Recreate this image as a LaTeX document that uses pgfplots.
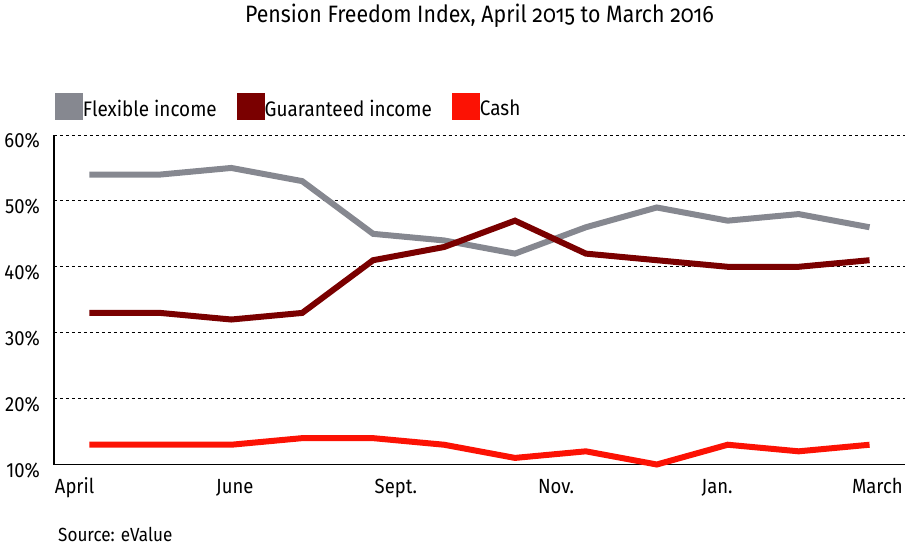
\documentclass[border=0pt]{standalone}
\usepackage{fontspec}
\setmainfont[FakeStretch=0.9]{Fira Sans}
\usepackage{pgfplots}
\pgfplotsset{compat=1.18}
\definecolor{flexc}{RGB}{134,136,144}
\definecolor{guarc}{RGB}{122,0,0}
\definecolor{cashc}{RGB}{252,18,4}
\newcommand\ticksize{\fontsize{20.5bp}{24bp}\selectfont}
\newcommand\legsize{\fontsize{21bp}{26bp}\selectfont}
\newcommand\titlesize{\fontsize{23.7bp}{28bp}\selectfont}
\newcommand\srcsize{\fontsize{19bp}{24bp}\selectfont}
\begin{document}
\begin{tikzpicture}
\path[use as bounding box] (-54bp,-85.5bp) rectangle (853bp,464.5bp);
\begin{axis}[
  at={(0,0)}, anchor=south west,
  scale only axis, width=851bp, height=329.5bp,
  xmin=-0.5, xmax=11.5, ymin=10, ymax=60,
  axis x line=bottom, axis y line=left,
  axis line style={-, line width=1.5bp, black},
  clip=false,
  major tick length=0pt,
  ytick={10,20,30,40,50,60},
  yticklabel={\pgfmathprintnumber{\tick}\%},
  /pgf/number format/assume math mode=true,
  yticklabel style={anchor=base east, inner sep=0pt, xshift=-14bp, yshift=-13bp, font=\ticksize},
  xtick={-0.21,2.05,4.32,6.58,8.85,11.11},
  xticklabels={April,June,Sept.,Nov.,Jan.,March},
  xticklabel style={anchor=base, inner sep=0pt, yshift=-28.5bp, font=\ticksize},
  ymajorgrids, grid style={dashed, black, line width=0.8bp},
  legend columns=3,
  legend image code/.code={\fill[#1] (0bp,-8.2bp) rectangle (22bp,12.8bp);},
  legend style={at={(rel axis cs:0,1)}, anchor=north west, xshift=1bp, yshift=42bp,
    draw=none, fill=none, inner sep=0pt, outer sep=0pt,
    nodes={inner sep=0pt, font=\legsize},
    /tikz/every odd column/.append style={column sep=0bp},
    /tikz/every even column/.append style={column sep=20bp}},
]
\addplot[flexc, line width=6bp] coordinates {(0,54) (1,54) (2,55) (3,53) (4,45) (5,44) (6,42) (7,46) (8,49) (9,47) (10,48) (11,46)};
\addlegendentry{Flexible income}
\addplot[guarc, line width=6bp] coordinates {(0,33) (1,33) (2,32) (3,33) (4,41) (5,43) (6,47) (7,42) (8,41) (9,40) (10,40) (11,41)};
\addlegendentry{Guaranteed income}
\addplot[cashc, line width=6bp] coordinates {(0,13) (1,13) (2,13) (3,14) (4,14) (5,13) (6,11) (7,12) (8,10) (9,13) (10,12) (11,13)};
\addlegendentry{Cash}
\end{axis}
\node[anchor=base, font=\titlesize, inner sep=0pt] at (425.5bp,441.5bp) {\addfontfeatures{Numbers=OldStyle}Pension Freedom Index, April 2015 to March 2016};
\node[anchor=base west, font=\srcsize, inner sep=0pt] at (4bp,-76.5bp) {Source: eValue};
\end{tikzpicture}
\end{document}
